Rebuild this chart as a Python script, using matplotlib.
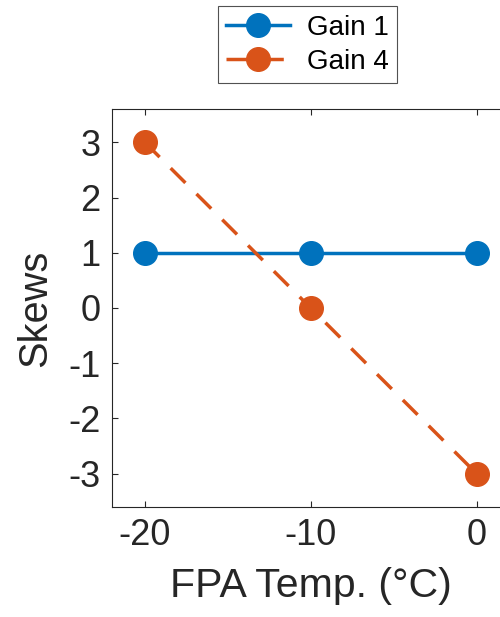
import matplotlib
matplotlib.use('Agg')
import matplotlib.pyplot as plt

plt.rcParams['font.family'] = ['Liberation Sans', 'DejaVu Sans']
plt.rcParams['axes.unicode_minus'] = False

### Data.
temps = [-20, -10, 0]
gain1 = [1, 1, 1]
gain4 = [3, 0, -3]
xticks = [-20, -10, 0]
yticks = [-3, -2, -1, 0, 1, 2, 3]

fig = plt.figure(figsize=(5, 6.17), dpi=100)
ax = fig.add_axes([0.2234, 0.1788, 0.796, 0.6441])

ax.plot(temps, gain1, color='#0072BD', linewidth=2.5, marker='o', markersize=17, label='Gain 1')
ax.plot(temps, gain4, color='#D95319', linewidth=2.5, linestyle=(0, (6, 4.5)), marker='o', markersize=17, label='Gain 4')

ax.set_xlim(-22, 2)
ax.set_ylim(-3.6, 3.6)
ax.set_xticks(xticks)
ax.set_yticks(yticks)
ax.tick_params(direction='in', length=4, width=0.8, color='#262626', labelsize=26,
               top=True, right=True, labelcolor='#262626', pad=8)
for s in ax.spines.values():
    s.set_color('#262626')
    s.set_linewidth(0.8)

ax.set_xlabel('FPA Temp. (°C)', fontsize=29.5, color='#262626', labelpad=10)
ax.set_ylabel('Skews', fontsize=28.6, color='#262626', labelpad=10)

leg = fig.legend(loc='upper center', bbox_to_anchor=(0.615, 0.99), fontsize=20, frameon=True,
                 fancybox=False, handlelength=2.3, borderpad=0.3, labelspacing=0.3,
                 handletextpad=0.6, borderaxespad=0)
leg.get_frame().set_edgecolor('#262626')
leg.get_frame().set_linewidth(0.8)

plt.savefig('out.png', dpi=100)
